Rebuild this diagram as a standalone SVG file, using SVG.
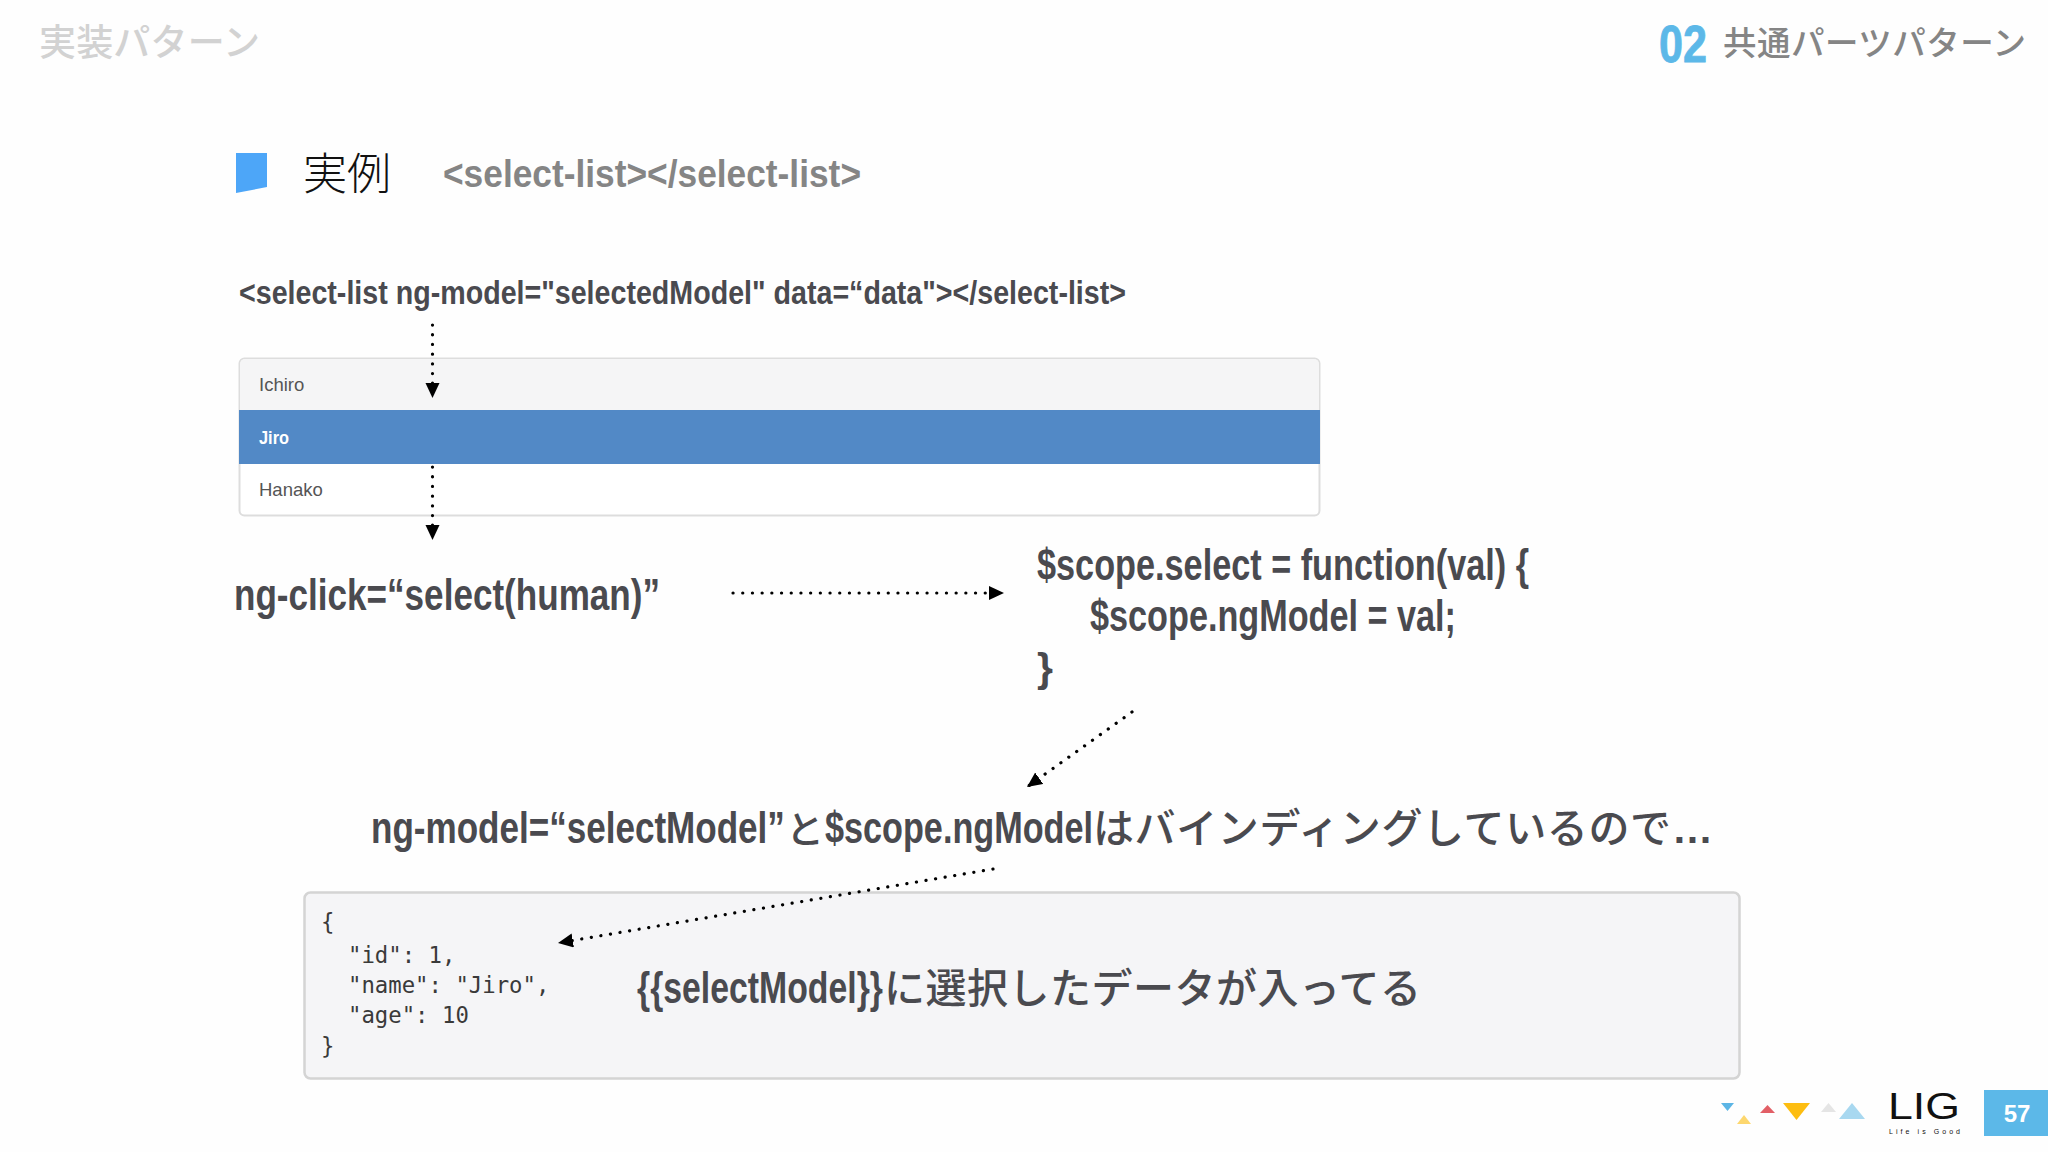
<svg xmlns="http://www.w3.org/2000/svg" width="2048" height="1152" viewBox="0 0 2048 1152">
<style>
.l{font-family:"Liberation Sans",Arial,"Noto Sans CJK JP",sans-serif;font-weight:700;fill:#4a4a4f}
.j{font-family:"Noto Sans CJK JP",sans-serif;fill:#4a4a4f;font-weight:500}
.r{font-family:"Liberation Sans",Arial,sans-serif;font-size:18.500px;fill:#555}
.m{font-family:"DejaVu Sans Mono","Liberation Mono",monospace;font-size:22.300px;fill:#3a3a3a}
.d{fill:none;stroke:#000;stroke-width:3.200;stroke-linecap:round;stroke-dasharray:.1 9.6}
</style>
<defs><marker id="a" markerUnits="userSpaceOnUse" markerWidth="16" markerHeight="16" refX="15" refY="7" orient="auto"><path d="M0 0L15 7L0 14z" fill="#000"/></marker></defs>
<rect width="2048" height="1152" fill="#fefefe"/>
<g id="header">
<text x="39" y="56" class="j" font-size="37" textLength="221" style="fill:#d2d2d2">実装パターン</text>
<text x="1659" y="61.500" class="l" font-size="51" textLength="48" lengthAdjust="spacingAndGlyphs" style="fill:#5cb8e8;stroke:#5cb8e8;stroke-width:.8">02</text>
<text x="1723" y="55" class="j" font-size="33.500" textLength="303" style="fill:#858585">共通パーツパターン</text>
</g>
<g id="title">
<polygon points="236,153 267,153 267,187 236,193" fill="#4da6f8"/>
<text x="303" y="190" font-family="'Noto Sans CJK JP',sans-serif" font-weight="300" font-size="44" fill="#111">実例</text>
<text x="443" y="187" class="l" font-size="38" textLength="418" lengthAdjust="spacingAndGlyphs" style="fill:#858585">&lt;select-list&gt;&lt;/select-list&gt;</text>
</g>
<g id="select-tag"><text x="239" y="304" class="l" font-size="33" textLength="887" lengthAdjust="spacingAndGlyphs">&lt;select-list ng-model="selectedModel" data=“data"&gt;&lt;/select-list&gt;</text></g>
<g id="list">
<rect x="239.500" y="358.500" width="1080" height="157" rx="5" fill="#fff" stroke="#ddd" stroke-width="2"/>
<path d="M240 410V364a5 5 0 0 1 5-5H1314a5 5 0 0 1 5 5V410z" fill="#f5f5f6"/>
<rect x="239" y="410" width="1081" height="54" fill="#5289c6"/>
<text x="259" y="391" class="r">Ichiro</text>
<text x="259" y="444" class="r" style="fill:#fff;font-weight:700" textLength="30" lengthAdjust="spacingAndGlyphs">Jiro</text>
<text x="259" y="496" class="r">Hanako</text>
</g>
<g id="ng-click"><text x="234" y="610" class="l" font-size="44" textLength="426" lengthAdjust="spacingAndGlyphs">ng-click=“select(human)”</text></g>
<g id="function">
<text x="1037" y="580" class="l" font-size="44" textLength="492" lengthAdjust="spacingAndGlyphs">$scope.select = function(val) {</text>
<text x="1090" y="631" class="l" font-size="44" textLength="366" lengthAdjust="spacingAndGlyphs">$scope.ngModel = val;</text>
<text x="1037" y="682" class="l" font-size="41">}</text>
</g>
<g id="binding">
<text transform="translate(371 843) scale(.797 1)" class="l" font-size="44">ng-model=“selectModel”</text>
<text x="786" y="843" class="j" font-size="38">と</text>
<text transform="translate(825 843) scale(.7775 1)" class="l" font-size="44">$scope.ngModel</text>
<text x="1093" y="843" class="j" font-size="41" textLength="578">はバインディングしているので</text>
<text x="1672" y="843" class="l" font-size="41" textLength="43">…</text>
</g>
<g id="output">
<rect x="304.500" y="892.500" width="1435" height="186" rx="6" fill="#f5f5f7" stroke="#d4d4d4" stroke-width="2.500"/>
<text x="321" y="930" class="m">{</text>
<text x="348" y="963" class="m">"id": 1,</text>
<text x="348" y="993" class="m">"name": "Jiro",</text>
<text x="348" y="1023" class="m">"age": 10</text>
<text x="321" y="1054" class="m">}</text>
<text transform="translate(637 1003) scale(.768 1)" class="l" font-size="44">{{selectModel}}</text>
<text x="884" y="1003" class="j" font-size="41" textLength="537">に選択したデータが入ってる</text>
</g>
<g id="connectors">
<path class="d" d="M432.500 325V398" marker-end="url(#a)"/>
<path class="d" d="M432.500 467V540" marker-end="url(#a)"/>
<path class="d" d="M733 593H1004" marker-end="url(#a)"/>
<path class="d" d="M1132 712L1027 787" marker-end="url(#a)"/>
<path class="d" d="M993 869L558 943" marker-end="url(#a)"/>
</g>
<g id="footer">
<polygon points="1721,1103 1734,1103 1727.500,1111" fill="#5cb5e5"/>
<polygon points="1737,1124 1751,1124 1744,1115" fill="#fdd76e"/>
<polygon points="1760,1113 1775,1113 1767.500,1105" fill="#e25f66"/>
<polygon points="1783,1103 1810,1103 1796.500,1120" fill="#fdbd10"/>
<polygon points="1821,1112 1836,1112 1828.500,1103" fill="#e5e5e5"/>
<polygon points="1839,1119 1865,1119 1852,1103" fill="#a8d8f0"/>
<text x="1888" y="1119" font-family="'Liberation Sans',sans-serif" fill="#111" font-size="36" textLength="72" lengthAdjust="spacingAndGlyphs">LIG</text>
<text x="1889" y="1133.500" font-family="'Liberation Sans',sans-serif" fill="#111" font-size="7" textLength="71">Life is Good</text>
<rect x="1984" y="1090" width="64" height="46" fill="#5cb8e8"/>
<text x="2017" y="1122" text-anchor="middle" font-family="'Liberation Sans',sans-serif" font-weight="700" font-size="24" fill="#fff">57</text>
</g>
</svg>
